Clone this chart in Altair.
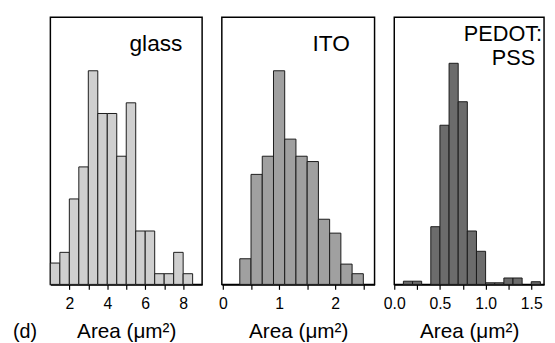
import altair as alt
import pandas as pd

FONT = "Liberation Sans"

# ---- data (bin edges and bar heights) ----
glass_lo = [1.0, 1.5, 2.0, 2.5, 3.0, 3.5, 4.0, 4.5, 5.0, 5.5, 6.0, 6.5, 7.0, 7.5, 8.0]
glass_hi = [1.5, 2.0, 2.5, 3.0, 3.5, 4.0, 4.5, 5.0, 5.5, 6.0, 6.5, 7.0, 7.5, 8.0, 8.5]
glass_n = [2, 3, 8, 11, 20, 16, 16, 12, 17, 5, 5, 1, 1, 3, 1]

ito_lo = [0.3, 0.5, 0.7, 0.9, 1.1, 1.3, 1.5, 1.7, 1.9, 2.1, 2.3]
ito_hi = [0.5, 0.7, 0.9, 1.1, 1.3, 1.5, 1.7, 1.9, 2.1, 2.3, 2.5]
ito_n = [2.4, 10.3, 12, 20, 13.6, 12, 11.5, 6.1, 4.8, 1.9, 1.0]

pedot_lo = [0.1, 0.2, 0.4, 0.5, 0.6, 0.7, 0.8, 0.9, 1.0, 1.1, 1.2, 1.3, 1.5]
pedot_hi = [0.2, 0.3, 0.5, 0.6, 0.7, 0.8, 0.9, 1.0, 1.1, 1.2, 1.3, 1.4, 1.6]
pedot_n = [0.3, 0.3, 5.4, 14.9, 20.7, 17.1, 5.0, 3.1, 0.15, 0.15, 0.6, 0.6, 0.25]

glass_ticks = [2, 3, 4, 5, 6, 7, 8]
ito_ticks = [0, 0.5, 1, 1.5, 2, 2.5]
pedot_ticks = [0, 0.25, 0.5, 0.75, 1.0, 1.25, 1.5]

x_title = "Area (μm²)"
H = 271


def label(text, x, y, size=23):
    return alt.Chart(pd.DataFrame({"t": [text]})).mark_text(
        font=FONT, fontSize=size, align="right", baseline="alphabetic", color="black"
    ).encode(text="t:N", x=alt.value(x), y=alt.value(y))


def panel(lo, hi, n, fill, domain, ticks, label_expr, width, texts):
    df = pd.DataFrame({"lo": lo, "hi": hi, "n": n})
    bars = alt.Chart(df).mark_rect(fill=fill, stroke="#1a1a1a", strokeWidth=1).encode(
        x=alt.X(
            "lo:Q",
            scale=alt.Scale(domain=domain, nice=False, zero=False),
            axis=alt.Axis(values=ticks, labelExpr=label_expr, title=x_title,
                          labelOverlap=False, labelFlush=False),
        ),
        x2="hi:Q",
        y=alt.Y("n:Q", scale=alt.Scale(domain=[0, 25], nice=False), axis=None),
        y2=alt.datum(0),
    )
    return alt.layer(bars, *texts).properties(width=width, height=H)


g = panel(glass_lo, glass_hi, glass_n, "#cfcfcf", [1, 9], glass_ticks,
          "datum.value % 2 == 0 ? format(datum.value, 'd') : ''", 154,
          [label("glass", 134, 34),
           alt.Chart(pd.DataFrame({"t": ["(d)"]})).mark_text(
               font=FONT, fontSize=20, align="left", baseline="alphabetic", color="black"
           ).encode(text="t:N", x=alt.value(-38), y=alt.value(H + 54))])

i = panel(ito_lo, ito_hi, ito_n, "#a0a0a0", [-0.02, 2.7], ito_ticks,
          "datum.value % 1 == 0 ? format(datum.value, 'd') : ''", 155,
          [label("ITO", 130, 34)])

p = panel(pedot_lo, pedot_hi, pedot_n, "#6c6c6c", [0, 1.64], pedot_ticks,
          "(datum.value * 2) % 1 == 0 ? format(datum.value, '.1f') : ''", 152,
          [label("PEDOT:", 150, 24, 22), label("PSS", 143, 48, 22)])

chart = alt.hconcat(g, i, p, spacing=20, bounds="flush").properties(
    padding={"left": 4, "top": 6, "right": 2, "bottom": 0},
    background="white",
).configure_view(
    stroke="black", strokeWidth=1.5
).configure_axis(
    domainColor="black", domainWidth=1.5, tickColor="black", tickWidth=1.2,
    tickSize=5, labelFont=FONT, labelFontSize=16, labelColor="black", labelPadding=6,
    titleFont=FONT, titleFontSize=21, titleFontWeight="normal", titleColor="black",
    titleY=54, titleBaseline="alphabetic", grid=False,
)

chart.save("out.html", embed_options={"renderer": "svg", "actions": False})
